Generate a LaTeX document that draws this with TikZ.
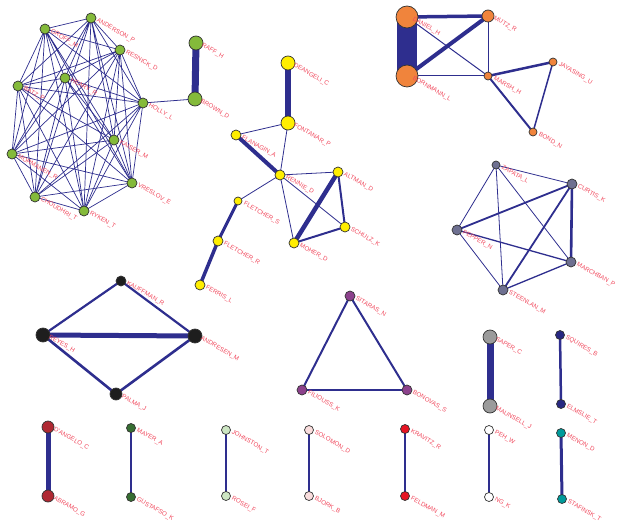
\documentclass[tikz,border=0pt]{standalone}
\usepackage{fontspec}
\newfontfamily\lblfont{Liberation Sans}
\usepackage{tikz}
\usetikzlibrary{calc}

\definecolor{edgeblue}{RGB}{46,46,142}
\definecolor{lblred}{RGB}{240,72,92}
\definecolor{cgreen}{RGB}{132,186,58}
\definecolor{cyellow}{RGB}{255,238,0}
\definecolor{corange}{RGB}{240,132,60}
\definecolor{cslate}{RGB}{110,112,145}
\definecolor{cblack}{RGB}{30,30,30}
\definecolor{cpurple}{RGB}{140,65,140}
\definecolor{cgray}{RGB}{155,155,155}
\definecolor{cnavy}{RGB}{40,40,130}
\definecolor{cdarkred}{RGB}{175,40,50}
\definecolor{cdarkgreen}{RGB}{55,110,50}
\definecolor{clightgreen}{RGB}{205,230,195}
\definecolor{cpink}{RGB}{250,222,222}
\definecolor{cred}{RGB}{230,20,35}
\definecolor{cteal}{RGB}{0,155,155}

\tikzset{
  edge/.style={draw=edgeblue, line width=#1},
  edge/.default=0.8pt,
  lbl/.style={anchor=west, rotate=-30, inner sep=0pt, text=lblred,
              font=\lblfont\fontsize{6.2}{7}\selectfont},
  pt/.style={draw=black!80, line width=0.7pt}
}

\begin{document}
\begin{tikzpicture}[x=1pt,y=-1pt]
  \useasboundingbox (0,0) rectangle (617,521);

  % 坐标点定义
  % green group
  \coordinate (anderson) at (91,18);
  \coordinate (groff) at (45,29);
  \coordinate (resnick) at (120,50);
  \coordinate (heary) at (65,78);
  \coordinate (batz) at (18,86);
  \coordinate (holly) at (143,103);
  \coordinate (kaiser) at (114,140);
  \coordinate (mormanen) at (12,154);
  \coordinate (vreslov) at (132,183);
  \coordinate (choudhri) at (35,197);
  \coordinate (ryken) at (84,211);
  \coordinate (raff) at (196,43);
  \coordinate (brown) at (195,99);
  % yellow group
  \coordinate (deangeli) at (288,63);
  \coordinate (fontanar) at (288,123);
  \coordinate (flanagin) at (236,135);
  \coordinate (rennie) at (280,175);
  \coordinate (altman) at (338,172);
  \coordinate (fletchers) at (238,201);
  \coordinate (schulz) at (345,227);
  \coordinate (fletcherr) at (218,241);
  \coordinate (moher) at (294,243);
  \coordinate (ferris) at (200,285);
  % orange group
  \coordinate (daniel) at (407,17);
  \coordinate (mutz) at (488,16);
  \coordinate (bornmann) at (407,76);
  \coordinate (marsh) at (488,76);
  \coordinate (jayasing) at (553,62);
  \coordinate (bond) at (533,132);
  % slate group
  \coordinate (zapata) at (496,165);
  \coordinate (curtis) at (572,184);
  \coordinate (pepper) at (457,230);
  \coordinate (marchban) at (571,262);
  \coordinate (steenlan) at (503,290);
  % black group
  \coordinate (kauffman) at (121,281);
  \coordinate (reyes) at (43,335);
  \coordinate (andresen) at (195,336);
  \coordinate (palma) at (116,394);
  % triangle and pairs
  \coordinate (sitaras) at (350,296);
  \coordinate (filiouss) at (302,390);
  \coordinate (bonovas) at (407,390);
  \coordinate (saper) at (490,337);
  \coordinate (maunsell) at (490,406);
  \coordinate (squires) at (560,335);
  \coordinate (elmslie) at (561,404);
  \coordinate (dangelo) at (48,427);
  \coordinate (abramo) at (48,496);
  \coordinate (mayer) at (131,428);
  \coordinate (gustafso) at (131,497);
  \coordinate (johnston) at (226,430);
  \coordinate (rosei) at (226,496);
  \coordinate (solomon) at (309,430);
  \coordinate (bjork) at (309,496);
  \coordinate (kravitz) at (405,429);
  \coordinate (feldman) at (405,496);
  \coordinate (peh) at (489,430);
  \coordinate (ng) at (489,497);
  \coordinate (menon) at (561,433);
  \coordinate (stafinsk) at (562,499);

  % 连线
  \draw[edge=0.7pt] (groff) -- (anderson) (groff) -- (resnick) (groff) -- (heary) (groff) -- (batz) (groff) -- (holly) (groff) -- (kaiser) (groff) -- (mormanen) (groff) -- (vreslov) (groff) -- (choudhri) (groff) -- (ryken);
  \draw[edge=0.7pt] (anderson) -- (resnick) (anderson) -- (heary) (anderson) -- (batz) (anderson) -- (holly) (anderson) -- (kaiser) (anderson) -- (mormanen) (anderson) -- (vreslov) (anderson) -- (choudhri) (anderson) -- (ryken);
  \draw[edge=0.7pt] (resnick) -- (heary) (resnick) -- (batz) (resnick) -- (holly) (resnick) -- (kaiser) (resnick) -- (mormanen) (resnick) -- (vreslov) (resnick) -- (choudhri) (resnick) -- (ryken);
  \draw[edge=0.7pt] (heary) -- (batz) (heary) -- (holly) (heary) -- (kaiser) (heary) -- (mormanen) (heary) -- (vreslov) (heary) -- (choudhri) (heary) -- (ryken);
  \draw[edge=0.7pt] (batz) -- (holly) (batz) -- (kaiser) (batz) -- (mormanen) (batz) -- (vreslov) (batz) -- (choudhri) (batz) -- (ryken);
  \draw[edge=0.7pt] (holly) -- (kaiser) (holly) -- (mormanen) (holly) -- (vreslov) (holly) -- (choudhri) (holly) -- (ryken);
  \draw[edge=0.7pt] (kaiser) -- (mormanen) (kaiser) -- (vreslov) (kaiser) -- (choudhri) (kaiser) -- (ryken);
  \draw[edge=0.7pt] (mormanen) -- (vreslov) (mormanen) -- (choudhri) (mormanen) -- (ryken);
  \draw[edge=0.7pt] (vreslov) -- (choudhri) (vreslov) -- (ryken) (choudhri) -- (ryken);
  \draw[edge] (holly) -- (brown);
  \draw[edge=7pt] (raff) -- (brown);

  \draw[edge=6pt] (deangeli) -- (fontanar);
  \draw[edge] (fontanar) -- (flanagin);
  \draw[edge] (fontanar) -- (rennie);
  \draw[edge=4pt] (flanagin) -- (rennie);
  \draw[edge] (rennie) -- (altman);
  \draw[edge] (rennie) -- (schulz);
  \draw[edge] (rennie) -- (moher);
  \draw[edge] (rennie) -- (fletchers);
  \draw[edge=4.5pt] (altman) -- (moher);
  \draw[edge=2pt] (altman) -- (schulz);
  \draw[edge=2pt] (moher) -- (schulz);
  \draw[edge=3pt] (fletchers) -- (fletcherr);
  \draw[edge=3.5pt] (fletcherr) -- (ferris);

  \draw[edge=20pt] (daniel) -- (bornmann);
  \draw[edge=3.5pt] (daniel) -- (mutz);
  \draw[edge=4pt] (bornmann) -- (mutz);
  \draw[edge=1pt] (daniel) -- (marsh);
  \draw[edge=1pt] (bornmann) -- (marsh);
  \draw[edge=1pt] (mutz) -- (marsh);
  \draw[edge=2.5pt] (marsh) -- (jayasing);
  \draw[edge=2pt] (marsh) -- (bond);
  \draw[edge=1.5pt] (jayasing) -- (bond);

  \draw[edge] (zapata) -- (curtis);
  \draw[edge] (zapata) -- (pepper);
  \draw[edge] (zapata) -- (steenlan);
  \draw[edge] (zapata) -- (marchban);
  \draw[edge=1.8pt] (curtis) -- (pepper);
  \draw[edge=2.6pt] (curtis) -- (marchban);
  \draw[edge=1.8pt] (curtis) -- (steenlan);
  \draw[edge=1.3pt] (pepper) -- (marchban);
  \draw[edge] (pepper) -- (steenlan);
  \draw[edge=1.3pt] (marchban) -- (steenlan);

  \draw[edge=5pt] (reyes) -- (andresen);
  \draw[edge=2.2pt] (reyes) -- (kauffman);
  \draw[edge=2.2pt] (kauffman) -- (andresen);
  \draw[edge=2.6pt] (reyes) -- (palma);
  \draw[edge=2.6pt] (palma) -- (andresen);

  \draw[edge=2pt] (sitaras) -- (filiouss);
  \draw[edge=2pt] (sitaras) -- (bonovas);
  \draw[edge=2.4pt] (filiouss) -- (bonovas);
  \draw[edge=7pt] (saper) -- (maunsell);
  \draw[edge=2.5pt] (squires) -- (elmslie);
  \draw[edge=5pt] (dangelo) -- (abramo);
  \draw[edge=2.5pt] (mayer) -- (gustafso);
  \draw[edge=2pt] (johnston) -- (rosei);
  \draw[edge=2.5pt] (solomon) -- (bjork);
  \draw[edge=2.5pt] (kravitz) -- (feldman);
  \draw[edge=2.5pt] (peh) -- (ng);
  \draw[edge=3pt] (menon) -- (stafinsk);

  % 点标记
  \draw[pt, fill=cgreen] (anderson) circle (5pt);
  \draw[pt, fill=cgreen] (groff) circle (5pt);
  \draw[pt, fill=cgreen] (resnick) circle (5pt);
  \draw[pt, fill=cgreen] (heary) circle (5pt);
  \draw[pt, fill=cgreen] (batz) circle (5pt);
  \draw[pt, fill=cgreen] (holly) circle (5pt);
  \draw[pt, fill=cgreen] (kaiser) circle (5pt);
  \draw[pt, fill=cgreen] (mormanen) circle (5pt);
  \draw[pt, fill=cgreen] (vreslov) circle (5pt);
  \draw[pt, fill=cgreen] (choudhri) circle (5pt);
  \draw[pt, fill=cgreen] (ryken) circle (5pt);
  \draw[pt, fill=cgreen] (raff) circle (7pt);
  \draw[pt, fill=cgreen] (brown) circle (7pt);

  \draw[pt, fill=cyellow] (deangeli) circle (7pt);
  \draw[pt, fill=cyellow] (fontanar) circle (7pt);
  \draw[pt, fill=cyellow] (flanagin) circle (5pt);
  \draw[pt, fill=cyellow] (rennie) circle (5pt);
  \draw[pt, fill=cyellow] (altman) circle (5pt);
  \draw[pt, fill=cyellow] (fletchers) circle (4pt);
  \draw[pt, fill=cyellow] (schulz) circle (5pt);
  \draw[pt, fill=cyellow] (fletcherr) circle (5pt);
  \draw[pt, fill=cyellow] (moher) circle (5pt);
  \draw[pt, fill=cyellow] (ferris) circle (5pt);

  \draw[pt, fill=corange] (daniel) circle (11pt);
  \draw[pt, fill=corange] (bornmann) circle (11pt);
  \draw[pt, fill=corange] (mutz) circle (6pt);
  \draw[pt, fill=corange] (marsh) circle (4pt);
  \draw[pt, fill=corange] (jayasing) circle (4pt);
  \draw[pt, fill=corange] (bond) circle (4pt);

  \draw[pt, fill=cslate] (zapata) circle (4pt);
  \draw[pt, fill=cslate] (curtis) circle (5pt);
  \draw[pt, fill=cslate] (pepper) circle (5pt);
  \draw[pt, fill=cslate] (marchban) circle (5pt);
  \draw[pt, fill=cslate] (steenlan) circle (5pt);

  \draw[pt, fill=cblack] (kauffman) circle (5pt);
  \draw[pt, fill=cblack] (reyes) circle (7pt);
  \draw[pt, fill=cblack] (andresen) circle (7pt);
  \draw[pt, fill=cblack] (palma) circle (6pt);

  \draw[pt, fill=cpurple] (sitaras) circle (5pt);
  \draw[pt, fill=cpurple] (filiouss) circle (5pt);
  \draw[pt, fill=cpurple] (bonovas) circle (5pt);
  \draw[pt, fill=cgray] (saper) circle (7pt);
  \draw[pt, fill=cgray] (maunsell) circle (7pt);
  \draw[pt, fill=cnavy] (squires) circle (4.5pt);
  \draw[pt, fill=cnavy] (elmslie) circle (4.5pt);
  \draw[pt, fill=cdarkred] (dangelo) circle (6pt);
  \draw[pt, fill=cdarkred] (abramo) circle (6pt);
  \draw[pt, fill=cdarkgreen] (mayer) circle (4.5pt);
  \draw[pt, fill=cdarkgreen] (gustafso) circle (4.5pt);
  \draw[pt, fill=clightgreen] (johnston) circle (4.5pt);
  \draw[pt, fill=clightgreen] (rosei) circle (4.5pt);
  \draw[pt, fill=cpink] (solomon) circle (4.5pt);
  \draw[pt, fill=cpink] (bjork) circle (4.5pt);
  \draw[pt, fill=cred] (kravitz) circle (4.5pt);
  \draw[pt, fill=cred] (feldman) circle (4.5pt);
  \draw[pt, fill=white] (peh) circle (4.5pt);
  \draw[pt, fill=white] (ng) circle (4.5pt);
  \draw[pt, fill=cteal] (menon) circle (4.5pt);
  \draw[pt, fill=cteal] (stafinsk) circle (4.5pt);

  % 点标签
  \node[lbl] (anderson-l) at ([shift={(6,2)}]anderson) {ANDERSON\_P};
  \node[lbl] (groff-l) at ([shift={(6,2)}]groff) {GROFF\_M};
  \node[lbl] (resnick-l) at ([shift={(6,2)}]resnick) {RESNICK\_D};
  \node[lbl] (heary-l) at ([shift={(6,2)}]heary) {HEARY\_R};
  \node[lbl] (batz-l) at ([shift={(6,2)}]batz) {BATZ\_P};
  \node[lbl] (holly-l) at ([shift={(6,2)}]holly) {HOLLY\_L};
  \node[lbl] (kaiser-l) at ([shift={(6,2)}]kaiser) {KAISER\_M};
  \node[lbl] (mormanen-l) at ([shift={(6,2)}]mormanen) {MORMANEN\_R};
  \node[lbl] (vreslov-l) at ([shift={(6,2)}]vreslov) {VRESLOV\_E};
  \node[lbl] (choudhri-l) at ([shift={(6,2)}]choudhri) {CHOUDHRI\_T};
  \node[lbl] (ryken-l) at ([shift={(6,2)}]ryken) {RYKEN\_T};
  \node[lbl] (raff-l) at ([shift={(6,2)}]raff) {RAFF\_H};
  \node[lbl] (brown-l) at ([shift={(6,2)}]brown) {BROWN\_D};
  \node[lbl] (deangeli-l) at ([shift={(6,2)}]deangeli) {DEANGELI\_C};
  \node[lbl] (fontanar-l) at ([shift={(6,2)}]fontanar) {FONTANAR\_P};
  \node[lbl] (flanagin-l) at ([shift={(6,2)}]flanagin) {FLANAGIN\_A};
  \node[lbl] (rennie-l) at ([shift={(6,2)}]rennie) {RENNIE\_D};
  \node[lbl] (altman-l) at ([shift={(6,2)}]altman) {ALTMAN\_D};
  \node[lbl] (fletchers-l) at ([shift={(6,2)}]fletchers) {FLETCHER\_S};
  \node[lbl] (schulz-l) at ([shift={(6,2)}]schulz) {SCHULZ\_K};
  \node[lbl] (fletcherr-l) at ([shift={(6,2)}]fletcherr) {FLETCHER\_R};
  \node[lbl] (moher-l) at ([shift={(6,2)}]moher) {MOHER\_D};
  \node[lbl] (ferris-l) at ([shift={(6,2)}]ferris) {FERRIS\_L};
  \node[lbl] (daniel-l) at ([shift={(6,2)}]daniel) {DANIEL\_H};
  \node[lbl] (mutz-l) at ([shift={(6,2)}]mutz) {MUTZ\_R};
  \node[lbl] (bornmann-l) at ([shift={(6,2)}]bornmann) {BORNMANN\_L};
  \node[lbl] (marsh-l) at ([shift={(6,2)}]marsh) {MARSH\_H};
  \node[lbl] (jayasing-l) at ([shift={(6,2)}]jayasing) {JAYASING\_U};
  \node[lbl] (bond-l) at ([shift={(6,2)}]bond) {BOND\_N};
  \node[lbl] (zapata-l) at ([shift={(6,2)}]zapata) {ZAPATA\_L};
  \node[lbl] (curtis-l) at ([shift={(6,2)}]curtis) {CURTIS\_K};
  \node[lbl] (pepper-l) at ([shift={(6,2)}]pepper) {PEPPER\_N};
  \node[lbl] (marchban-l) at ([shift={(6,2)}]marchban) {MARCHBAN\_P};
  \node[lbl] (steenlan-l) at ([shift={(6,2)}]steenlan) {STEENLAN\_M};
  \node[lbl] (kauffman-l) at ([shift={(6,2)}]kauffman) {KAUFFMAN\_R};
  \node[lbl] (reyes-l) at ([shift={(6,2)}]reyes) {REYES\_H};
  \node[lbl] (andresen-l) at ([shift={(6,2)}]andresen) {ANDRESEN\_M};
  \node[lbl] (palma-l) at ([shift={(6,2)}]palma) {PALMA\_J};
  \node[lbl] (sitaras-l) at ([shift={(6,2)}]sitaras) {SITARAS\_N};
  \node[lbl] (filiouss-l) at ([shift={(6,2)}]filiouss) {FILIOUSS\_K};
  \node[lbl] (bonovas-l) at ([shift={(6,2)}]bonovas) {BONOVAS\_S};
  \node[lbl] (saper-l) at ([shift={(6,2)}]saper) {SAPER\_C};
  \node[lbl] (maunsell-l) at ([shift={(6,2)}]maunsell) {MAUNSELL\_J};
  \node[lbl] (squires-l) at ([shift={(6,2)}]squires) {SQUIRES\_B};
  \node[lbl] (elmslie-l) at ([shift={(6,2)}]elmslie) {ELMSLIE\_T};
  \node[lbl] (dangelo-l) at ([shift={(6,2)}]dangelo) {D'ANGELO\_C};
  \node[lbl] (abramo-l) at ([shift={(6,2)}]abramo) {ABRAMO\_G};
  \node[lbl] (mayer-l) at ([shift={(6,2)}]mayer) {MAYER\_A};
  \node[lbl] (gustafso-l) at ([shift={(6,2)}]gustafso) {GUSTAFSO\_K};
  \node[lbl] (johnston-l) at ([shift={(6,2)}]johnston) {JOHNSTON\_T};
  \node[lbl] (rosei-l) at ([shift={(6,2)}]rosei) {ROSEI\_F};
  \node[lbl] (solomon-l) at ([shift={(6,2)}]solomon) {SOLOMON\_D};
  \node[lbl] (bjork-l) at ([shift={(6,2)}]bjork) {BJORK\_B};
  \node[lbl] (kravitz-l) at ([shift={(6,2)}]kravitz) {KRAVITZ\_R};
  \node[lbl] (feldman-l) at ([shift={(6,2)}]feldman) {FELDMAN\_M};
  \node[lbl] (peh-l) at ([shift={(6,2)}]peh) {PEH\_W};
  \node[lbl] (ng-l) at ([shift={(6,2)}]ng) {NG\_K};
  \node[lbl] (menon-l) at ([shift={(6,2)}]menon) {MENON\_D};
  \node[lbl] (stafinsk-l) at ([shift={(6,2)}]stafinsk) {STAFINSK\_T};
\end{tikzpicture}
\end{document}
